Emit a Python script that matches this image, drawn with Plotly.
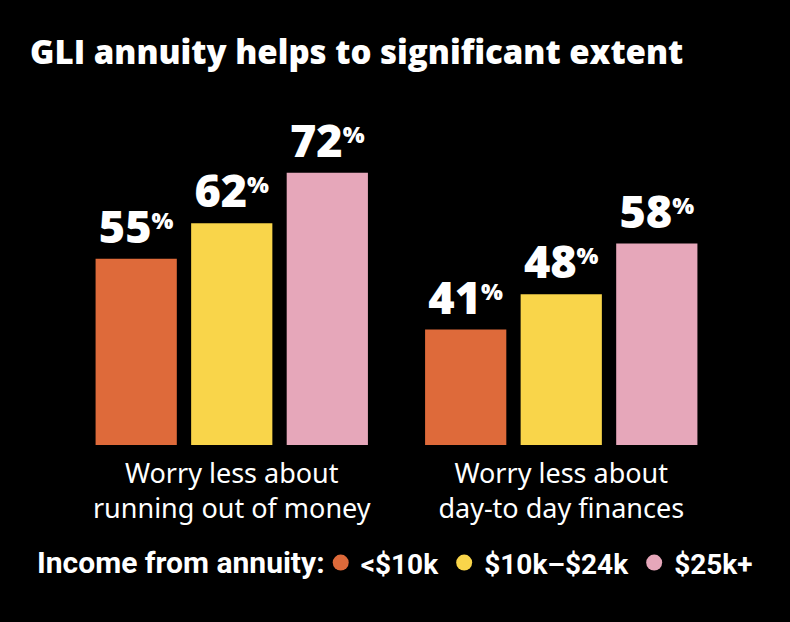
import plotly.graph_objects as go

categories = ["Worry less about<br>running out of money", "Worry less about<br>day-to day finances"]
series_names = ["<$10k", "$10k–$24k", "$25k+"]
values_lt10k = [55, 41]
values_10_24k = [62, 48]
values_25k = [72, 58]
colors = ["#DE6A3A", "#F9D54A", "#E6A7BA"]

all_values = [values_lt10k, values_10_24k, values_25k]

fig = go.Figure()
for name, vals, col in zip(series_names, all_values, colors):
    fig.add_trace(go.Bar(
        x=categories, y=vals, name=name, marker_color=col, marker_line_width=0,
        text=[str(v) for v in vals],
        texttemplate="%{text}<span style='font-size:33px'><sup>%</sup></span>",
        textposition="outside", constraintext="none", cliponaxis=False,
        textfont=dict(family="Open Sans", size=45, color="white", weight=800),
        showlegend=False,
    ))
    fig.add_trace(go.Scatter(
        x=[None], y=[None], mode="markers", name=name,
        marker=dict(symbol="circle", size=19, color=col),
        showlegend=True,
    ))

fig.update_layout(
    width=790, height=622,
    paper_bgcolor="black", plot_bgcolor="black",
    margin=dict(l=67, r=64, t=110, b=177),
    barmode="group", bargap=0.13, bargroupgap=0.15,
    title=dict(text="GLI annuity helps to significant extent",
               x=0.038, xanchor="left", y=0.916, yanchor="middle",
               font=dict(family="Open Sans", size=33, color="white", weight=800)),
    xaxis=dict(range=[-0.5, 1.5], showgrid=False, zeroline=False, showline=False,
               ticks="", tickfont=dict(family="Noto Sans", size=27, color="white"),
               ticklabelstandoff=10),
    yaxis=dict(range=[18.2, 84.4], visible=False),
    legend=dict(orientation="h", x=0.385, xanchor="left", y=-0.352, yanchor="middle",
                font=dict(family="Roboto", size=28, color="white", weight="bold"),
                itemsizing="trace", itemwidth=30,
                bgcolor="rgba(0,0,0,0)"),
    annotations=[dict(text="<b>Income from annuity:</b>", xref="paper", yref="paper",
                      x=-0.0486, y=-0.352, xanchor="left", yanchor="middle", showarrow=False,
                      font=dict(family="Roboto", size=30, color="white"))],
)

fig.write_html("out.html", config={"displayModeBar": False},
               post_script="document.body.style.margin='0px';")
